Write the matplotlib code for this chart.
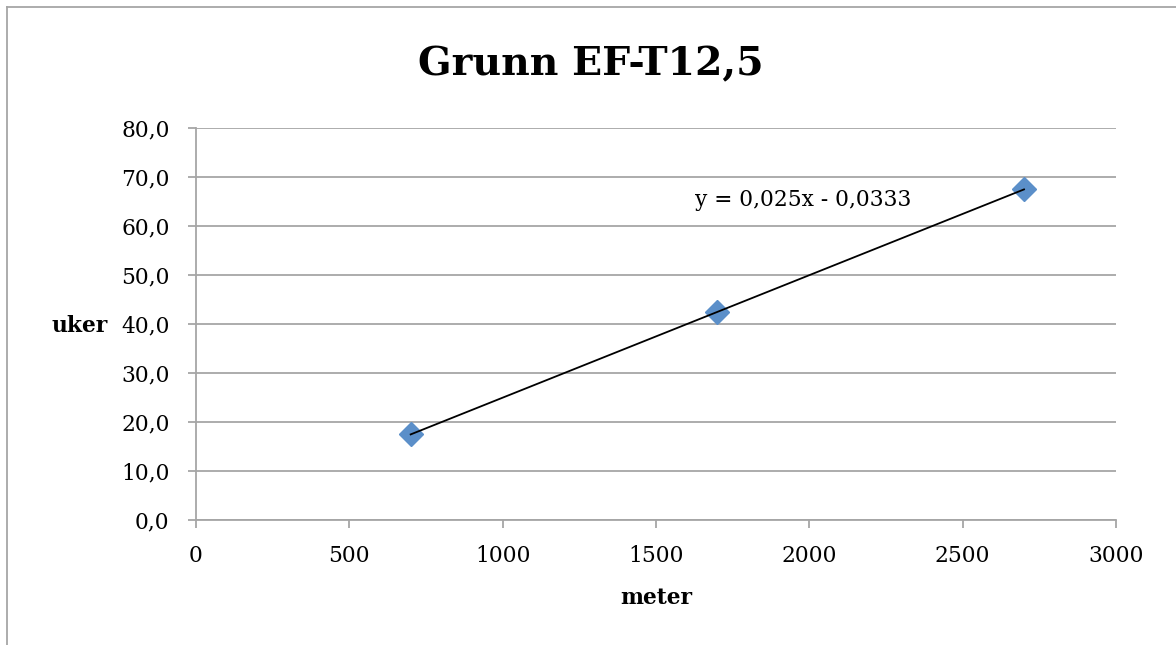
import numpy as np
import matplotlib.pyplot as plt
from matplotlib.lines import Line2D

# data
meter = [700, 1700, 2700]
uker = [17.5, 42.4, 67.5]
x_ticks = [0, 500, 1000, 1500, 2000, 2500, 3000]
y_ticks = [0, 10, 20, 30, 40, 50, 60, 70, 80]

font = "DejaVu Serif"
grey = "#A6A6A6"
fs = 15.7

fig = plt.figure(figsize=(11.76, 6.45), dpi=100)
ax = fig.add_axes([196 / 1176, 1 - 520 / 645, 920 / 1176, 392 / 645])

# linear trendline like Excel
slope, intercept = np.polyfit(meter, uker, 1)
fit_x = np.array([min(meter), max(meter)])
ax.plot(fit_x, slope * fit_x + intercept, color="black", linewidth=1.3, zorder=3)
ax.plot(meter, uker, linestyle="none", marker="D", markersize=12.5,
        color="#5B8FC9", zorder=2)

eq = "y = {:.3f}x - {:.4f}".format(slope, abs(intercept)).replace(".", ",")
ax.text(1626, 65.3, eq, fontsize=fs, family=font, ha="left", va="center")

ax.set_xlim(0, 3000)
ax.set_ylim(0, 80)
ax.set_xticks(x_ticks)
ax.set_yticks(y_ticks)
ax.set_xticklabels([str(v) for v in x_ticks], family=font, fontsize=fs)
ax.set_yticklabels(["{:.1f}".format(v).replace(".", ",") for v in y_ticks],
                   family=font, fontsize=fs)
ax.tick_params(axis="both", direction="out", length=6, width=1.3, color=grey)
ax.tick_params(axis="y", pad=13)
ax.tick_params(axis="x", pad=12)

ax.yaxis.grid(True, color=grey, linewidth=1.3)
ax.set_axisbelow(True)
for side in ["top", "right"]:
    ax.spines[side].set_visible(False)
for side in ["left", "bottom"]:
    ax.spines[side].set_color(grey)
    ax.spines[side].set_linewidth(1.3)

fig.text(591 / 1176, 1 - 64 / 645, "Grunn EF-T12,5", family=font,
         fontweight="bold", fontsize=28.4, ha="center", va="center")
fig.text(80 / 1176, 1 - 326 / 645, "uker", family=font, fontweight="bold",
         fontsize=fs, ha="center", va="center")
fig.text(656 / 1176, 1 - 598 / 645, "meter", family=font, fontweight="bold",
         fontsize=fs, ha="center", va="center")

# chart border (only left and top edges show in the picture)
fig.add_artist(Line2D([7 / 1176, 7 / 1176], [0, 1 - 7 / 645], color=grey,
                      linewidth=1.3))
fig.add_artist(Line2D([7 / 1176, 1], [1 - 7 / 645, 1 - 7 / 645], color=grey,
                      linewidth=1.3))

fig.savefig("out.png", dpi=100)
